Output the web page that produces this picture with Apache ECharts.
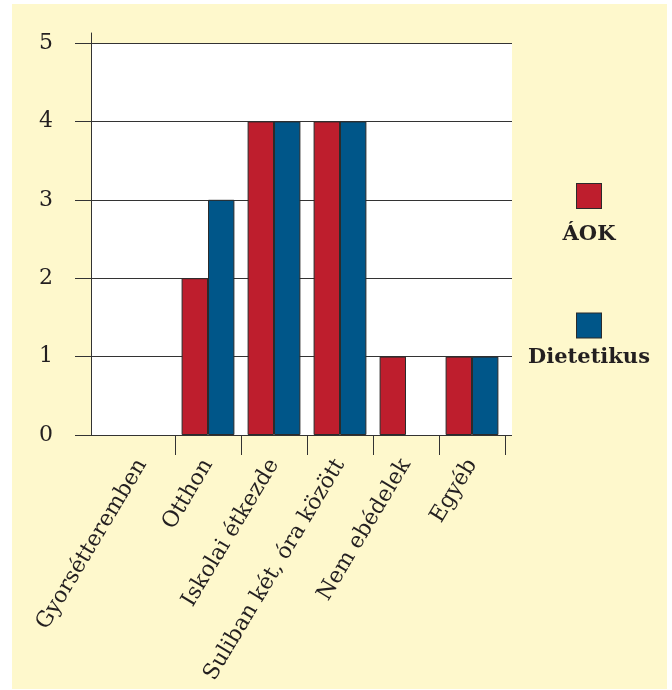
<!DOCTYPE html>
<html>
<head>
<meta charset="utf-8">
<script src="https://cdn.jsdelivr.net/npm/echarts@6/dist/echarts.min.js"></script>
<style>
  html, body { margin: 0; padding: 0; background: #ffffff; }
  #chart { position: absolute; left: 12px; top: 4px; width: 655px; height: 685px; background: #fef8cc; }
</style>
</head>
<body>
<div id="chart"></div>
<script>
// Where students eat lunch, two groups
const categories = ['Gyorsétteremben', 'Otthon', 'Iskolai étkezde', 'Suliban két, óra között', 'Nem ebédelek', 'Egyéb'];
const aokValues = [0, 2, 4, 4, 1, 1];
const dietValues = [0, 3, 4, 4, 0, 1];
const seriesNames = ['ÁOK', 'Dietetikus'];
const yTicks = [0, 1, 2, 3, 4, 5];

const RED = '#be1e2d';
const BLUE = '#005689';
const INK = '#231f20';
const EDGE = '#2b2b2b';
const FONT = 'DejaVu Serif';

// zero-height bars get no outline
const barData = values => values.map(v => v === 0 ? { value: v, itemStyle: { borderWidth: 0 } } : v);

const chart = echarts.init(document.getElementById('chart'));

chart.setOption({
  animation: false,
  grid: [
    // white plot panel with value gridlines
    { left: 79, top: 39, width: 421, height: 392, show: true, backgroundColor: '#ffffff', borderWidth: 0 },
    // category band holding the bars
    { left: 97, top: 39, width: 396, height: 392 },
    // vertical axis line, running a little above the panel
    { left: 79, top: 29, width: 421, height: 402 }
  ],
  xAxis: [
    { gridIndex: 0, type: 'value', min: 0, max: 1, show: false },
    {
      gridIndex: 1, type: 'category', data: categories, position: 'bottom',
      axisLine: { show: false }, axisTick: { show: false },
      axisLabel: { rotate: 59, margin: 26, fontFamily: FONT, fontSize: 22, color: INK, interval: 0 }
    },
    {
      gridIndex: 1, type: 'value', min: 0, max: categories.length, interval: 1, position: 'bottom',
      axisLine: { show: false, onZero: false }, splitLine: { show: false }, axisLabel: { show: false },
      axisTick: { show: true, length: 20, customValues: [1, 2, 3, 4, 5, 6], lineStyle: { color: '#333', width: 1 } }
    },
    { gridIndex: 2, type: 'value', min: 0, max: 1, show: false }
  ],
  yAxis: [
    {
      gridIndex: 0, type: 'value', min: yTicks[0], max: yTicks[yTicks.length - 1], interval: 1,
      axisLine: { show: true, lineStyle: { color: '#333', width: 1 } },
      axisTick: { show: true, inside: false, length: 16, lineStyle: { color: '#333', width: 1 } },
      axisLabel: { margin: 38, fontFamily: FONT, fontSize: 22, color: INK },
      splitLine: { show: true, lineStyle: { color: '#333', width: 1 } }
    },
    { gridIndex: 1, type: 'value', min: 0, max: 5, show: false },
    {
      gridIndex: 2, type: 'value', min: 0, max: 1,
      axisLine: { show: true, lineStyle: { color: '#333', width: 1 } },
      axisTick: { show: false }, axisLabel: { show: false }, splitLine: { show: false }
    }
  ],
  legend: {
    orient: 'vertical', left: 502, top: 174,
    icon: 'none', itemWidth: 0, itemHeight: 0, itemGap: 67,
    selectedMode: false,
    data: seriesNames,
    formatter: name => name === seriesNames[0]
      ? '{r|}\n{t1|' + name + '}'
      : '{b|}\n{t2|' + name + '}',
    textStyle: {
      rich: {
        r: { width: 24, height: 24, backgroundColor: RED, borderColor: EDGE, borderWidth: 1, align: 'center' },
        b: { width: 24, height: 24, backgroundColor: BLUE, borderColor: EDGE, borderWidth: 1, align: 'center' },
        t1: { width: 130, align: 'center', lineHeight: 54, fontSize: 21, fontWeight: 'bold', fontFamily: FONT, color: INK },
        t2: { width: 130, align: 'center', lineHeight: 41, fontSize: 21, fontWeight: 'bold', fontFamily: FONT, color: INK }
      }
    }
  },
  series: [
    {
      name: seriesNames[0], type: 'bar', xAxisIndex: 1, yAxisIndex: 1, data: barData(aokValues),
      barGap: '0%', barCategoryGap: '20%',
      itemStyle: { color: RED, borderColor: EDGE, borderWidth: 1 }
    },
    {
      name: seriesNames[1], type: 'bar', xAxisIndex: 1, yAxisIndex: 1, data: barData(dietValues),
      barGap: '0%', barCategoryGap: '20%',
      itemStyle: { color: BLUE, borderColor: EDGE, borderWidth: 1 }
    }
  ]
});
</script>
</body>
</html>
